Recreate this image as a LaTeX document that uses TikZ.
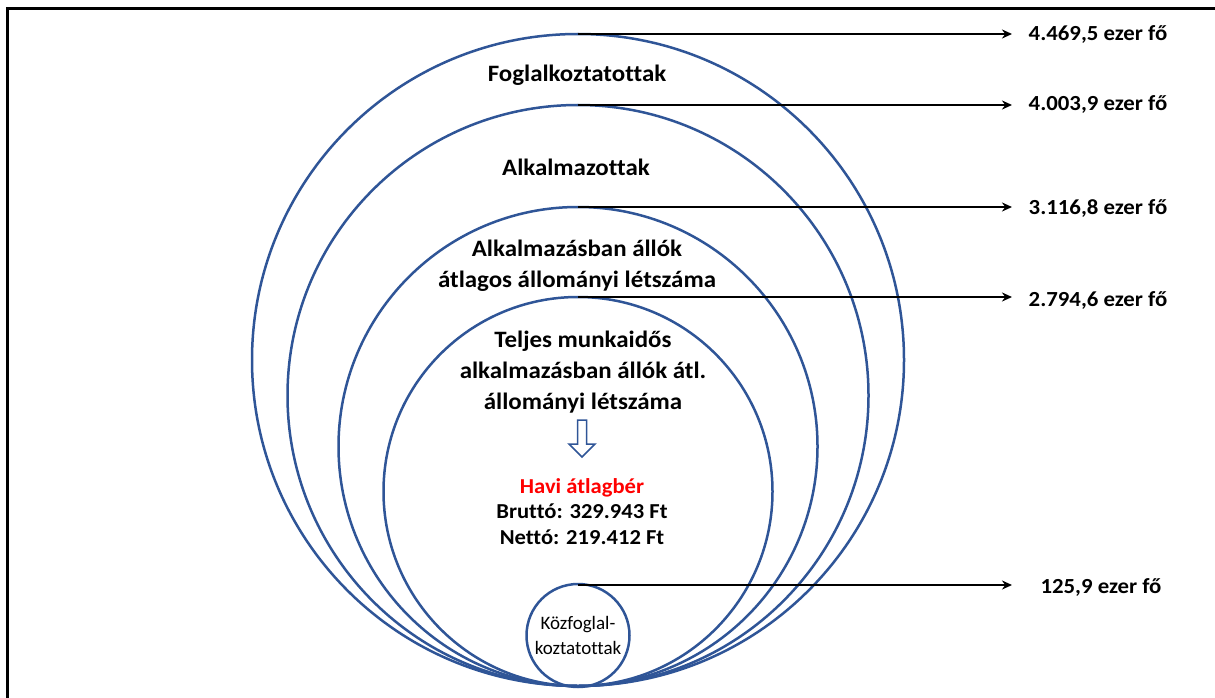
\documentclass[tikz,border=0pt]{standalone}
\usepackage{fontspec}
\setmainfont{Carlito}[Ligatures=NoCommon]
\newfontfamily\wfont{Carlito}[FakeStretch=1.06,Ligatures=NoCommon]
\usetikzlibrary{arrows.meta}
\definecolor{cblue}{RGB}{47,85,151}
\definecolor{hred}{RGB}{255,0,0}
\begin{document}
\begin{tikzpicture}[x=1pt,y=-1pt,
  ring/.style={circle,draw=cblue,line width=2.5pt,minimum size=#1,inner sep=0pt,outer sep=0pt},
  lbl/.style={font=\wfont\fontsize{23.5}{31}\selectfont\bfseries,align=center,inner sep=0pt},
  wage/.style={font=\wfont\fontsize{21.3}{25.5}\selectfont\bfseries,align=center,inner sep=0pt},
  val/.style={font=\wfont\fontsize{21.5}{24}\selectfont\bfseries,inner sep=0pt},
  conn/.style={line width=2.5pt,-{Stealth[length=10pt,width=9pt]}},
  hollow/.style={draw=cblue,line width=1.5pt,fill=white}
]
\useasboundingbox (0,0) rectangle (1215,698);
\draw[line width=3pt] (7.5,698) -- (7.5,9) -- (1216,9);
% rings
\node[ring=652pt] (c1) at (578,360) {};
\node[ring=581pt] (c2) at (578,395.5) {};
\node[ring=479pt] (c3) at (578,446.5) {};
\node[ring=389pt] (c4) at (578,491.5) {};
\node[ring=103pt,font=\fontsize{19}{25}\selectfont,align=center] (c5) at (578,635.5) {Közfoglal-\\koztatottak};
% connector end x
\coordinate (ex) at (1012,0);
\draw[conn] (c1.north) -- (c1.north -| ex);
\draw[conn] (c2.north) -- (c2.north -| ex);
\draw[conn] (c3.north) -- (c3.north -| ex);
\draw[conn] (c4.north) -- (c4.north -| ex);
\draw[conn] ([yshift=-1pt]c5.north) -- ([yshift=-1pt]c5.north -| ex);
% values
\node[val] (v1) at (1098,34.5) {4.469,5 ezer fő};
\node[val] (v2) at (1098,104.5) {4.003,9 ezer fő};
\node[val] (v3) at (1098,208) {3.116,8 ezer fő};
\node[val] (v4) at (1098,300) {2.794,6 ezer fő};
\node[val] (v5) at (1101,587) {125,9 ezer fő};
% labels
\node[lbl] (t1) at (577,75) {Foglalkoztatottak};
\node[lbl] (t2) at (576,167) {Alkalmazottak};
\node[lbl] (t3) at (577,266) {Alkalmazásban állók\\átlagos állományi létszáma};
\node[lbl] (t4) at (583,372) {Teljes munkaidős\\alkalmazásban állók átl.\\állományi létszáma};
% hollow down arrow
\draw[hollow] (577.5,420) -- (586.5,420) -- (586.5,444) -- (595,444) -- (582,457) -- (569,444) -- (577.5,444) -- cycle;
\node[wage] (w) at (582,511.5) {\textcolor{hred}{Havi átlagbér}\\Bruttó: 329.943 Ft\\Nettó: 219.412 Ft};
\end{tikzpicture}
\end{document}
